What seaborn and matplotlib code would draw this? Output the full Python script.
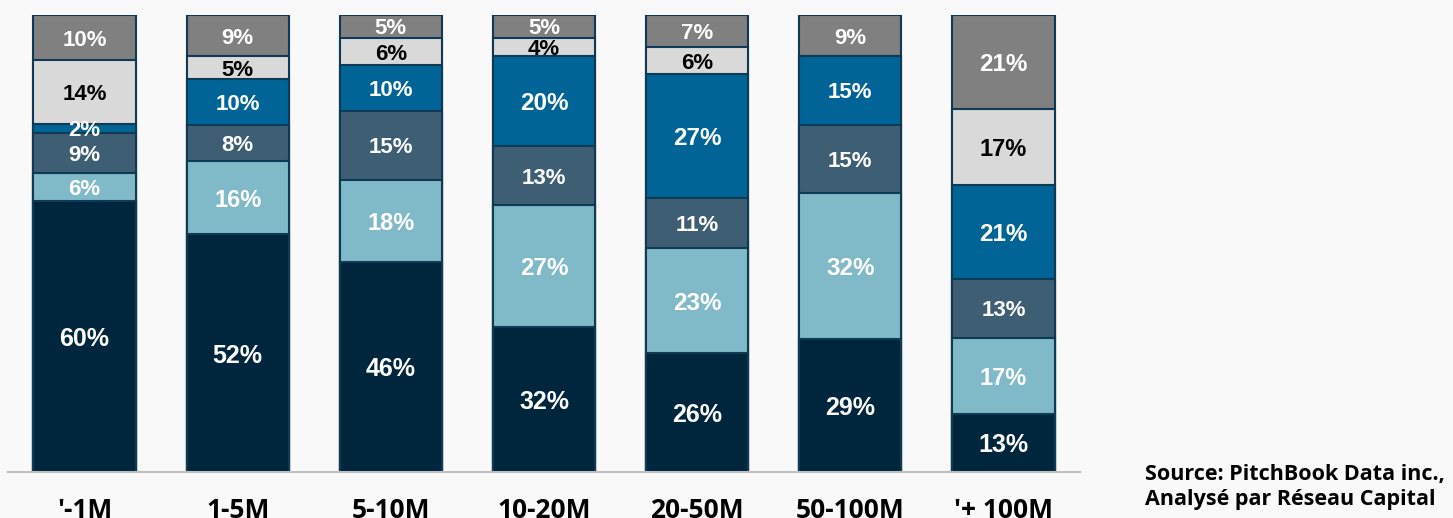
import matplotlib
matplotlib.use("Agg")
import matplotlib.pyplot as plt
import seaborn as sns
import numpy as np
import pandas as pd

categories = ["'-1M", "1-5M", "5-10M", "10-20M", "20-50M", "50-100M", "'+ 100M"]
# segments from bottom to top
seg1 = [60, 52, 46, 32, 26, 29, 13]
seg2 = [6, 16, 18, 27, 23, 32, 17]
seg3 = [9, 8, 15, 13, 11, 15, 13]
seg4 = [2, 10, 10, 20, 27, 15, 21]
seg5 = [14, 5, 6, 4, 6, 0, 17]
seg6 = [10, 9, 5, 5, 7, 9, 21]
series = [seg1, seg2, seg3, seg4, seg5, seg6]
colors = ["#00263D", "#80B9C8", "#3E5E73", "#006496", "#D9D9D9", "#808080"]
label_colors = ["white", "white", "white", "white", "black", "white"]

sns.set_theme(style="white")
plt.rcParams["font.family"] = ["Liberation Sans", "DejaVu Sans"]

vals = np.array(series, dtype=float)
totals = vals.sum(axis=0)
heights = vals / totals * 100
cum = np.cumsum(heights, axis=0)

fig = plt.figure(figsize=(14.53, 5.18), dpi=100)
fig.patch.set_facecolor("#F9F9F9")
ax = fig.add_axes([8/1453, 1 - 472/518, (1080 - 8)/1453, (472 - 15)/518])
ax.set_facecolor("#F9F9F9")

for i in range(len(series) - 1, -1, -1):
    df = pd.DataFrame({"cat": categories, "v": cum[i]})
    sns.barplot(data=df, x="cat", y="v", color=colors[i], width=0.667,
                edgecolor="#0E3A55", linewidth=1.5, saturation=1, ax=ax, zorder=2)

for i in range(len(series)):
    for j in range(len(categories)):
        v = vals[i, j]
        if v <= 0:
            continue
        if i == 0:
            fs = 18
        elif v >= 20:
            fs = 17.5
        elif v >= 16:
            fs = 17
        else:
            fs = 16
        y = cum[i, j] - heights[i, j] / 2
        ax.text(j, y, f"{int(v)}%", ha="center", va="center_baseline",
                color=label_colors[i], fontsize=fs, fontweight="bold", zorder=5)

ax.set_xlim(-0.5, 6.5)
ax.set_ylim(0, 100)
ax.set_xlabel("")
ax.set_ylabel("")
ax.set_yticks([])
for s in ["top", "right", "left"]:
    ax.spines[s].set_visible(False)
ax.spines["bottom"].set_color("#BFBFBF")
ax.spines["bottom"].set_linewidth(1.5)
ax.tick_params(axis="x", length=0, pad=18)
for lbl in ax.get_xticklabels():
    lbl.set_fontfamily(["Open Sans", "DejaVu Sans"])
    lbl.set_fontweight("bold")
    lbl.set_fontsize(19)
    lbl.set_color("black")

fig.text(1145/1453, 1 - 487/518, "Source: PitchBook Data inc.,\nAnalysé par Réseau Capital",
         ha="left", va="center", fontsize=15.5, fontweight="bold",
         family=["Open Sans", "DejaVu Sans"], color="black", linespacing=1.2)

fig.savefig("out.png", dpi=100, facecolor=fig.get_facecolor())
